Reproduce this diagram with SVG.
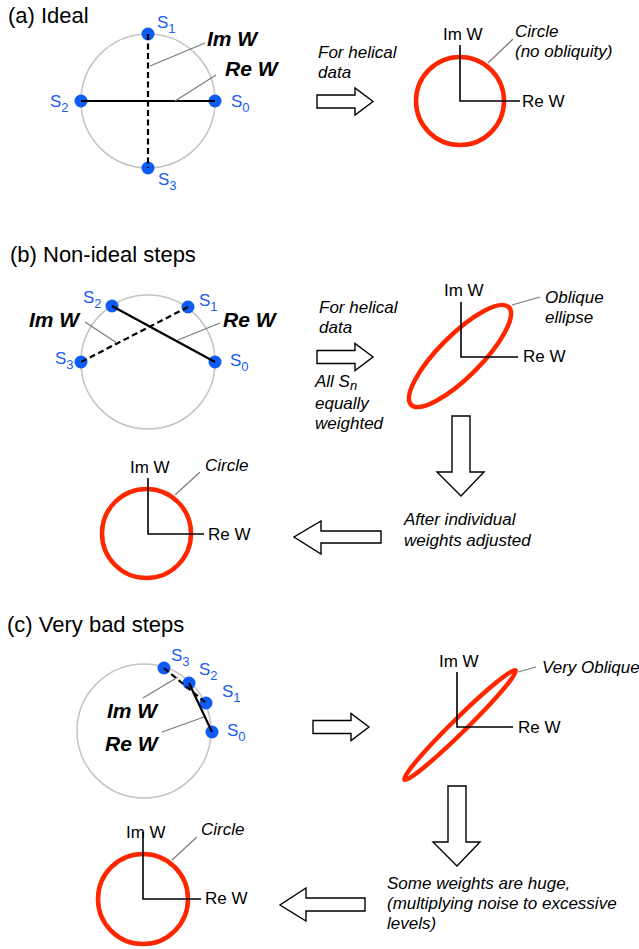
<svg xmlns="http://www.w3.org/2000/svg" width="639" height="949" viewBox="0 0 639 949">
<defs>
<style>
text{font-family:"Liberation Sans",Arial,sans-serif;fill:#000}
.title{font-size:22px}
.lab{font-size:17px}
.it{font-size:17px;font-style:italic}
.bi{font-size:21px;font-style:italic;font-weight:bold}
.s{font-size:17px;fill:#1a5cf5}
.sub{font-size:13px}
.ring{fill:none;stroke:#c4c4c4;stroke-width:1.5}
.dot{fill:#0d5cf6}
.solid{stroke:#000;stroke-width:2.2;fill:none}
.dash{stroke:#000;stroke-width:2.2;fill:none;stroke-dasharray:6,3.5}
.lead{stroke:#7a7a7a;stroke-width:1.2;fill:none}
.red{fill:none;stroke:#ff2600;stroke-width:4.5}
.axis{fill:none;stroke:#000;stroke-width:1.6}
.arrow{fill:#fff;stroke:#000;stroke-width:1.4;stroke-linejoin:miter}
</style>
<polygon id="rarrow" points="-56,-6.5 -18,-6.5 -18,-13.5 0,0 -18,13.5 -18,6.5 -56,6.5"/>
</defs>

<g id="panel-a">
<text class="title" x="8" y="23">(a) Ideal</text>
<g id="a-wheel">
<circle class="ring" cx="148" cy="101" r="67"/>
<circle class="dot" cx="148" cy="34" r="6.5"/>
<circle class="dot" cx="148" cy="168" r="6.5"/>
<circle class="dot" cx="81" cy="101" r="6.5"/>
<circle class="dot" cx="215" cy="101" r="6.5"/>
<text class="s" x="157" y="28">S<tspan class="sub" dy="5">1</tspan></text>
<text class="s" x="231" y="107">S<tspan class="sub" dy="5">0</tspan></text>
<text class="s" x="50" y="107">S<tspan class="sub" dy="5">2</tspan></text>
<text class="s" x="158" y="185">S<tspan class="sub" dy="5">3</tspan></text>
<text class="bi" x="207" y="46">Im W</text>
<text class="bi" x="225" y="76">Re W</text>
</g>
<g id="a-note">
<text class="it" x="318" y="58">For helical</text>
<text class="it" x="318" y="78">data</text>
</g>
<g id="a-result">
<circle class="red" cx="460" cy="101" r="44"/>
<path class="axis" d="M460,45 V101 H520"/>
<text class="lab" x="443" y="40">Im W</text>
<text class="lab" x="522" y="107">Re W</text>
<text class="it" x="515" y="37">Circle</text>
<text class="it" x="515" y="57">(no obliquity)</text>
</g>
</g>

<g id="panel-b">
<text class="title" x="10" y="262">(b) Non-ideal steps</text>
<g id="b-wheel">
<circle class="ring" cx="148" cy="362" r="67"/>
<circle class="dot" cx="112" cy="306" r="6.5"/>
<circle class="dot" cx="188" cy="307" r="6.5"/>
<circle class="dot" cx="81" cy="362" r="6.5"/>
<circle class="dot" cx="215" cy="362" r="6.5"/>
<text class="s" x="83" y="303">S<tspan class="sub" dy="5">2</tspan></text>
<text class="s" x="199" y="306">S<tspan class="sub" dy="5">1</tspan></text>
<text class="s" x="55" y="364">S<tspan class="sub" dy="5">3</tspan></text>
<text class="s" x="230" y="366">S<tspan class="sub" dy="5">0</tspan></text>
<text class="bi" x="29" y="327">Im W</text>
<text class="bi" x="223" y="327">Re W</text>
</g>
<g id="b-note">
<text class="it" x="319" y="313">For helical</text>
<text class="it" x="319" y="333">data</text>
<text class="it" x="315" y="387">All S<tspan class="sub" dy="3">n</tspan></text>
<text class="it" x="315" y="409">equally</text>
<text class="it" x="315" y="429">weighted</text>
</g>
<g id="b-result">
<ellipse class="red" cx="460" cy="356" rx="69" ry="21" transform="rotate(-45 460 356)"/>
<path class="axis" d="M461,302 V357 H518"/>
<text class="lab" x="444" y="296">Im W</text>
<text class="lab" x="523" y="362">Re W</text>
<text class="it" x="545" y="303">Oblique</text>
<text class="it" x="545" y="323">ellipse</text>
</g>
<g id="b-adjusted">
<circle class="red" cx="146.5" cy="533.5" r="44.5"/>
<path class="axis" d="M148,478 V534 H204"/>
<text class="lab" x="130" y="473">Im W</text>
<text class="lab" x="208" y="540">Re W</text>
<text class="it" x="205" y="471">Circle</text>
</g>
<g id="b-note2">
<text class="it" x="404" y="525">After individual</text>
<text class="it" x="404" y="546">weights adjusted</text>
</g>
</g>

<g id="panel-c">
<text class="title" x="7" y="632">(c) Very bad steps</text>
<g id="c-wheel">
<circle class="ring" cx="144" cy="731" r="67"/>
<circle class="dot" cx="164" cy="668" r="6.5"/>
<circle class="dot" cx="189" cy="683" r="6.5"/>
<circle class="dot" cx="206" cy="703" r="6.5"/>
<circle class="dot" cx="212" cy="732" r="6.5"/>
<text class="s" x="171" y="661">S<tspan class="sub" dy="5">3</tspan></text>
<text class="s" x="199" y="675">S<tspan class="sub" dy="5">2</tspan></text>
<text class="s" x="222" y="697">S<tspan class="sub" dy="5">1</tspan></text>
<text class="s" x="227" y="736">S<tspan class="sub" dy="5">0</tspan></text>
<text class="bi" x="107" y="718">Im W</text>
<text class="bi" x="105" y="751">Re W</text>
</g>
<g id="c-result">
<ellipse class="red" cx="460" cy="725" rx="78" ry="7" transform="rotate(-44.5 460 725)"/>
<path class="axis" d="M457,672 V727 H513"/>
<text class="lab" x="439" y="667">Im W</text>
<text class="lab" x="518" y="733">Re W</text>
<text class="it" x="542" y="673">Very Oblique</text>
</g>
<g id="c-adjusted">
<circle class="red" cx="143" cy="899" r="45"/>
<path class="axis" d="M143,832 V899 H201"/>
<text class="lab" x="126" y="838">Im W</text>
<text class="lab" x="205" y="904">Re W</text>
<text class="it" x="201" y="835">Circle</text>
</g>
<g id="c-note">
<text class="it" x="387" y="889">Some weights are huge,</text>
<text class="it" x="387" y="909">(multiplying noise to excessive</text>
<text class="it" x="387" y="929">levels)</text>
</g>
</g>

<g id="connectors">
<line class="solid" x1="81" y1="101" x2="215" y2="101"/>
<line class="dash" x1="148" y1="34" x2="148" y2="168"/>
<line class="lead" x1="150" y1="66" x2="205" y2="43"/>
<line class="lead" x1="175" y1="101" x2="216" y2="75"/>
<line class="lead" x1="488" y1="63" x2="513" y2="39"/>
<use href="#rarrow" class="arrow" x="373" y="101.5"/>

<line class="solid" x1="112" y1="306" x2="215" y2="362"/>
<line class="dash" x1="188" y1="307" x2="81" y2="362"/>
<line class="lead" x1="85" y1="322" x2="117" y2="343"/>
<line class="lead" x1="178" y1="340" x2="220" y2="323"/>
<line class="lead" x1="512" y1="305" x2="540" y2="297"/>
<use href="#rarrow" class="arrow" x="373" y="357"/>
<polygon class="arrow" points="452,416 470,416 470,472 484,472 461,496 437,472 452,472"/>
<line class="lead" x1="175" y1="495" x2="200" y2="472"/>
<polygon class="arrow" points="381,531 321,531 321,521 294,537 321,554 321,543 381,543"/>

<line class="dash" x1="164" y1="668" x2="206" y2="703"/>
<line class="solid" x1="189" y1="683" x2="212" y2="732"/>
<line class="lead" x1="143" y1="698" x2="178" y2="677"/>
<line class="lead" x1="162" y1="732" x2="204" y2="717"/>
<line class="lead" x1="518" y1="672" x2="536" y2="667"/>
<use href="#rarrow" class="arrow" x="369" y="727"/>
<polygon class="arrow" points="448,786 466,786 466,842 480,842 457,866 433,842 448,842"/>
<line class="lead" x1="172" y1="860" x2="197" y2="837"/>
<polygon class="arrow" points="365,898 306,898 306,888 280,905 306,921 306,911 365,911"/>
</g>
</svg>
